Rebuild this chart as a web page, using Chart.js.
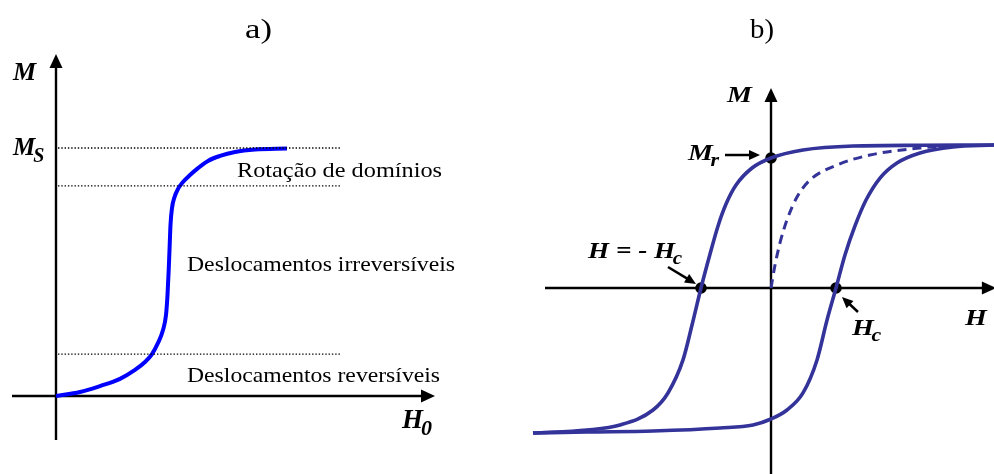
<!DOCTYPE html>
<html><head><meta charset="utf-8">
<script src="https://cdn.jsdelivr.net/npm/chart.js@4"></script>
<style>html,body{margin:0;padding:0;background:#fff;overflow:hidden}canvas{display:block}</style>
</head><body>
<canvas id="c" width="994" height="474"></canvas>
<script>
// ---------- Panel a) : virgin magnetization curve (H0 , M/Ms) ----------
const curveA_H = [0, 0.6, 1.1, 1.6, 1.975, 2.225, 2.4, 2.55, 2.675, 2.75, 2.7875, 2.8175, 2.8425, 2.8625, 2.9, 2.9625, 3.05, 3.175, 3.35, 3.55, 3.8, 4.1, 4.475, 4.975, 5.775];
const curveA_M = [0, 0.016, 0.040, 0.069, 0.105, 0.137, 0.169, 0.214, 0.266, 0.327, 0.407, 0.508, 0.609, 0.690, 0.758, 0.802, 0.835, 0.863, 0.891, 0.919, 0.948, 0.968, 0.984, 0.994, 0.998];
const levelsA = [1.0, 0.847, 0.169];          // dotted separation levels (Ms, domain rotation, reversible)
const levelsA_span = [0.05, 7.1];             // H0 extent of the dotted lines

// ---------- Panel b) : hysteresis loop (H/Hc , M/Ms) ----------
const upperH = [-3.662, -2.831, -2.323, -1.815, -1.585, -1.354, -1.215, -1.077, -0.938, -0.815, -0.692, -0.538, -0.292, 0, 0.492, 1.262, 2.292, 3.431];
const upperM = [-1.014, -0.993, -0.958, -0.853, -0.734, -0.503, -0.259, 0, 0.238, 0.434, 0.587, 0.720, 0.839, 0.909, 0.965, 0.993, 0.998, 1.0];
const lowerH = [-3.662, -2.831, -1.815, -0.785, -0.277, 0, 0.246, 0.492, 0.708, 0.862, 1.0, 1.138, 1.292, 1.462, 1.677, 1.938, 2.292, 2.8, 3.431];
const lowerM = [-1.014, -1.007, -1.0, -0.979, -0.958, -0.916, -0.853, -0.734, -0.503, -0.224, 0, 0.231, 0.434, 0.615, 0.769, 0.874, 0.944, 0.986, 1.0];
const initH = [0, 0.062, 0.138, 0.246, 0.4, 0.6, 1.015, 1.523, 2.292, 2.754];
const initM = [0, 0.161, 0.315, 0.476, 0.636, 0.755, 0.860, 0.930, 0.979, 0.993];
const markH = [0, -1.077, 1.0];               // Mr, -Hc, Hc
const markM = [0.909, 0, 0];

const pts = (xs, ys) => xs.map((x, i) => ({x, y: ys[i]}));

const BLUE = '#0000ff';
const LOOP = '#333399';

const datasets = [
  ...levelsA.map(l => ({
    data: pts(levelsA_span, [l, l]), xAxisID: 'xa', yAxisID: 'ya',
    borderColor: '#000', borderWidth: 1.3, borderDash: [1.4, 1.9], pointRadius: 0
  })),
  { data: pts(curveA_H, curveA_M), xAxisID: 'xa', yAxisID: 'ya', borderColor: BLUE, borderWidth: 4,
    pointRadius: 0, cubicInterpolationMode: 'monotone', borderCapStyle: 'butt' },
  { data: pts(initH, initM), xAxisID: 'xb', yAxisID: 'yb', borderColor: LOOP, borderWidth: 3,
    borderDash: [9, 6], pointRadius: 0, cubicInterpolationMode: 'monotone' },
  { data: pts(upperH, upperM), xAxisID: 'xb', yAxisID: 'yb', borderColor: LOOP, borderWidth: 3.6,
    pointRadius: 0, cubicInterpolationMode: 'monotone' },
  { data: pts(lowerH, lowerM), xAxisID: 'xb', yAxisID: 'yb', borderColor: LOOP, borderWidth: 3.6,
    pointRadius: 0, cubicInterpolationMode: 'monotone' },
  { data: pts(markH, markM), xAxisID: 'xb', yAxisID: 'yb', showLine: false, pointRadius: 5.8,
    pointBackgroundColor: '#000', pointBorderWidth: 0, pointBorderColor: '#000' }
];

// axes (data coordinates) : [xScale, yScale, x1, y1, x2(tip), y2(tip)]
const axisLines = [
  ['xa', 'ya', -1.1, 0, 9.475, 0],
  ['xa', 'ya', 0, -0.177, 0, 1.379],
  ['xb', 'yb', -3.477, 0, 3.46, 0],
  ['xb', 'yb', 0, -1.31, 0, 1.399]
];
// annotation arrows panel b
const noteArrows = [
  [-0.708, 0.930, -0.169, 0.930],
  [-1.585, 0.147, -1.154, 0.028],
  [1.338, -0.168, 1.092, -0.063]
];

const SERIF = '"Liberation Serif", "DejaVu Serif", serif';
const textLabels = [
  {sx:'xa', sy:'ya', x:4.725, y:1.4435, t:'a)', size:28, w:27},
  {sx:'xb', sy:'yb', x:-0.323, y:1.748, t:'b)', size:28, w:24},
  {sx:'xa', sy:'ya', x:4.525, y:0.883, t:'Rotação de domínios', size:22, w:205},
  {sx:'xa', sy:'ya', x:3.275, y:0.504, t:'Deslocamentos irreversíveis', size:22, w:268},
  {sx:'xa', sy:'ya', x:3.275, y:0.0565, t:'Deslocamentos reversíveis', size:22, w:253}
];
const mathLabels = [
  {sx:'xa', sy:'ya', x:-1.075, y:1.274, t:'M', sub:'', size:26, k:1},
  {sx:'xa', sy:'ya', x:-1.075, y:0.972, t:'M', sub:'S', size:25, k:1},
  {sx:'xa', sy:'ya', x:8.65, y:-0.129, t:'H', sub:'0', size:27, k:1},
  {sx:'xb', sy:'yb', x:-0.677, y:1.301, t:'M', sub:'', size:23, k:1.22},
  {sx:'xb', sy:'yb', x:-1.277, y:0.895, t:'M', sub:'r', size:23, k:1.22},
  {sx:'xb', sy:'yb', x:-2.815, y:0.21, t:'H = - H', sub:'c', size:23, k:1.18},
  {sx:'xb', sy:'yb', x:1.246, y:-0.329, t:'H', sub:'c', size:23, k:1.22},
  {sx:'xb', sy:'yb', x:2.985, y:-0.259, t:'H', sub:'', size:23, k:1.22}
];

function arrowHead(ctx, x1, y1, x2, y2, len, wid) {
  const a = Math.atan2(y2 - y1, x2 - x1);
  ctx.save();
  ctx.translate(x2, y2); ctx.rotate(a);
  ctx.beginPath(); ctx.moveTo(0, 0); ctx.lineTo(-len, -wid / 2); ctx.lineTo(-len, wid / 2); ctx.closePath();
  ctx.fill();
  ctx.restore();
}
function arrow(ctx, x1, y1, x2, y2, lw, len, wid) {
  const a = Math.atan2(y2 - y1, x2 - x1);
  ctx.lineWidth = lw;
  ctx.beginPath(); ctx.moveTo(x1, y1);
  ctx.lineTo(x2 - Math.cos(a) * len * 0.8, y2 - Math.sin(a) * len * 0.8); ctx.stroke();
  arrowHead(ctx, x1, y1, x2, y2, len, wid);
}

const diagram = {
  id: 'diagram',
  beforeDatasetsDraw(chart) {
    const ctx = chart.ctx, S = chart.scales;
    ctx.save();
    ctx.strokeStyle = '#000'; ctx.fillStyle = '#000';
    axisLines.forEach(([sx, sy, x1, y1, x2, y2]) => {
      arrow(ctx, S[sx].getPixelForValue(x1), S[sy].getPixelForValue(y1),
                 S[sx].getPixelForValue(x2), S[sy].getPixelForValue(y2), 2.4, 14, 13);
    });
    ctx.restore();
  },
  afterDatasetsDraw(chart) {
    const ctx = chart.ctx, S = chart.scales;
    ctx.save();
    ctx.strokeStyle = '#000'; ctx.fillStyle = '#000';
    noteArrows.forEach(([x1, y1, x2, y2]) => {
      arrow(ctx, S.xb.getPixelForValue(x1), S.yb.getPixelForValue(y1),
                 S.xb.getPixelForValue(x2), S.yb.getPixelForValue(y2), 2.5, 11, 10);
    });
    ctx.textBaseline = 'alphabetic'; ctx.textAlign = 'left';
    textLabels.forEach(l => {
      const x = S[l.sx].getPixelForValue(l.x), y = S[l.sy].getPixelForValue(l.y);
      ctx.font = l.size + 'px ' + SERIF;
      const m = ctx.measureText(l.t).width;
      ctx.save(); ctx.translate(x, y); ctx.scale(l.w / m, 1); ctx.fillText(l.t, 0, 0); ctx.restore();
    });
    mathLabels.forEach(l => {
      const x = S[l.sx].getPixelForValue(l.x), y = S[l.sy].getPixelForValue(l.y);
      ctx.save(); ctx.translate(x, y); ctx.scale(l.k, 1);
      ctx.font = 'italic bold ' + l.size + 'px ' + SERIF;
      ctx.fillText(l.t, 0, 0);
      if (l.sub) {
        const w = ctx.measureText(l.t).width;
        const ss = Math.round(l.size * 0.8);
        ctx.font = 'italic bold ' + ss + 'px ' + SERIF;
        ctx.fillText(l.sub, w - 2, l.size * 0.27);
      }
      ctx.restore();
    });
    ctx.restore();
  }
};

new Chart(document.getElementById('c'), {
  type: 'line',
  data: { datasets },
  options: {
    responsive: false, animation: false, devicePixelRatio: 1,
    layout: { padding: 0, autoPadding: false },
    plugins: { legend: { display: false }, tooltip: { enabled: false }, title: { display: false } },
    events: [],
    scales: {
      xa: { type: 'linear', display: false, min: -1.4, max: 23.45 },
      ya: { type: 'linear', display: false, min: -0.3145, max: 1.5968 },
      xb: { type: 'linear', display: false, min: -11.862, max: 3.4308 },
      yb: { type: 'linear', display: false, min: -1.3007, max: 2.014 }
    }
  },
  plugins: [diagram]
});
</script>
</body></html>
